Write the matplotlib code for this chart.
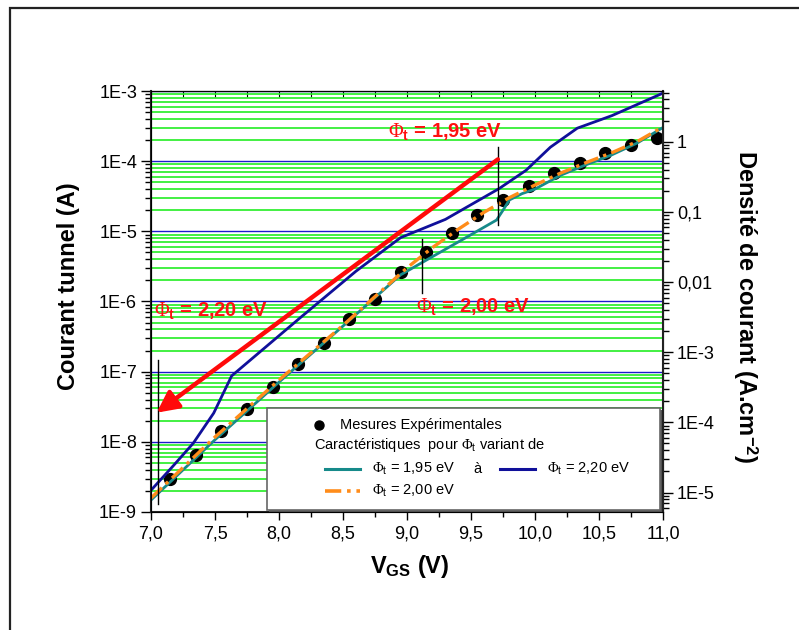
import matplotlib
matplotlib.use('Agg')
import matplotlib.pyplot as plt
import numpy as np
from matplotlib.ticker import FixedLocator, FixedFormatter, LogLocator, NullFormatter, MultipleLocator
from matplotlib.patches import Rectangle
from matplotlib.lines import Line2D

plt.rcParams['font.family'] = ['Liberation Sans', 'DejaVu Sans']
plt.rcParams['mathtext.fontset'] = 'custom'
plt.rcParams['mathtext.rm'] = 'Liberation Serif'
plt.rcParams['mathtext.it'] = 'Liberation Serif:italic'
plt.rcParams['mathtext.bf'] = 'Liberation Sans:bold'
plt.rcParams['mathtext.sf'] = 'Liberation Sans'

# measured points
v_meas = [7.15, 7.35, 7.55, 7.75, 7.95, 8.15, 8.35, 8.55, 8.75, 8.95,
          9.15, 9.35, 9.55, 9.75, 9.95, 10.15, 10.35, 10.55, 10.75, 10.95]
i_meas = [2.92e-9, 6.5e-9, 1.43e-8, 2.97e-8, 6.1e-8, 1.27e-7, 2.59e-7, 5.6e-7, 1.09e-6, 2.64e-6,
          5.13e-6, 9.46e-6, 1.71e-5, 2.8e-5, 4.43e-5, 6.7e-5, 9.33e-5, 1.29e-4, 1.70e-4, 2.16e-4]

# simulated curves
v_195 = [7.0, 7.5, 8.0, 8.5, 8.95, 9.2, 9.45, 9.7, 9.75, 9.8, 9.9, 10.0, 10.2, 10.4, 10.6, 10.8, 11.0]
i_195 = [1.48e-9, 1.07e-8, 7.1e-8, 4.47e-7, 2.4e-6, 4.37e-6, 7.94e-6, 1.45e-5, 2.0e-5, 2.8e-5,
         3.45e-5, 4.0e-5, 6.3e-5, 8.9e-5, 1.23e-4, 1.82e-4, 3.02e-4]

v_200 = [7.0, 7.5, 8.0, 8.5, 9.0, 9.2, 9.4, 9.6, 9.8, 10.0, 10.2, 10.4, 10.6, 10.8, 11.0]
i_200 = [1.58e-9, 1.17e-8, 7.6e-8, 4.57e-7, 3.02e-6, 5.89e-6, 1.07e-5, 1.86e-5, 3.02e-5, 4.57e-5,
         6.76e-5, 9.55e-5, 1.32e-4, 1.91e-4, 3.09e-4]

v_220 = [7.0, 7.17, 7.33, 7.49, 7.63, 8.16, 8.6, 8.95, 9.3, 9.72, 9.93, 10.12, 10.33, 10.6, 11.0]
i_220 = [2.04e-9, 4.47e-9, 9.55e-9, 2.57e-8, 8.7e-8, 5.75e-7, 2.69e-6, 8.13e-6, 1.48e-5, 4.07e-5,
         7.41e-5, 1.58e-4, 2.95e-4, 4.45e-4, 9.33e-4]

# red arrow and marker lines
arrow_start = (9.71, 1.06e-4)
arrow_end = (7.044, 2.6e-8)
marks = [(7.055, 1.3e-9, 1.47e-7), (9.71, 1.23e-5, 1.61e-4), (9.12, 1.32e-6, 7.9e-6)]

area = 1.895e-4  # cm2, J = I / area
ylim = (1e-9, 1e-3)

left_ticks = [1e-9, 1e-8, 1e-7, 1e-6, 1e-5, 1e-4, 1e-3]
left_labels = ['1E-9', '1E-8', '1E-7', '1E-6', '1E-5', '1E-4', '1E-3']
right_ticks = [1e-5, 1e-4, 1e-3, 1e-2, 1e-1, 1]
right_labels = ['1E-5', '1E-4', '1E-3', '0,01', '0,1', '1']

teal = '#168a8a'
navy = '#10109a'
orange = '#ff8c1a'


def fx(px):
    return px / 799


def fy(py):
    return 1 - py / 630


fig = plt.figure(figsize=(7.99, 6.30), dpi=100)
fig.add_artist(Rectangle((fx(10), -0.2), 1.2, 1.2 - 8 / 630, transform=fig.transFigure,
                         fill=False, edgecolor='#222222', lw=1.6))

ax = fig.add_axes([fx(151), fy(512), 512 / 799, 421 / 630])
ax.set_yscale('log')
ax.set_xlim(7.0, 11.0)
ax.set_ylim(*ylim)

ax.set_axisbelow(True)
ax.yaxis.grid(True, which='minor', color='#22ee22', lw=1.2)
ax.yaxis.grid(True, which='major', color='#1a1acc', lw=1.0)

ax.plot(v_meas, i_meas, 'o', color='black', ms=8.5, zorder=2)
ax.plot(v_195, i_195, color=teal, lw=2, zorder=3)
ax.plot(v_220, i_220, color=navy, lw=2, zorder=3)
ax.plot(v_200, i_200, color=orange, lw=2.4, dashes=(4.5, 1.6, 1, 1.6), zorder=4)

for xv, y0, y1 in marks:
    ax.plot([xv, xv], [y0, y1], color='black', lw=1, zorder=4)

ax.annotate('', xy=arrow_end, xytext=arrow_start,
            arrowprops=dict(arrowstyle='-|>,head_length=0.8,head_width=0.4', color='#ff0a0a',
                            lw=3.2, mutation_scale=16, shrinkA=0, shrinkB=0), zorder=5)

ann_kw = dict(color='#ff1010', fontsize=14.5, fontweight='bold', zorder=6)
fig.text(fx(388), fy(137), r'$\Phi_{\mathbf{t}}$ = 1,95 eV', **ann_kw)
fig.text(fx(154), fy(316), r'$\Phi_{\mathbf{t}}$ = 2,20 eV', **ann_kw)
fig.text(fx(416), fy(312), r'$\Phi_{\mathbf{t}}$ = 2,00 eV', **ann_kw)

# x axis
ax.xaxis.set_major_locator(MultipleLocator(0.5))
ax.xaxis.set_minor_locator(MultipleLocator(0.25))
ax.set_xticklabels([f'{v:.1f}'.replace('.', ',') for v in ax.get_xticks()])
ax.tick_params(axis='x', which='major', direction='out', length=6, width=1, labelsize=13, pad=4)
ax.tick_params(axis='x', which='minor', direction='out', length=3.5, width=1)

# left axis
ax.yaxis.set_major_locator(FixedLocator(left_ticks))
ax.yaxis.set_major_formatter(FixedFormatter(left_labels))
ax.yaxis.set_minor_locator(LogLocator(base=10, subs=np.arange(2, 10)))
ax.yaxis.set_minor_formatter(NullFormatter())
ax.tick_params(axis='y', which='major', direction='out', length=7, width=1, labelsize=13, pad=3)
ax.tick_params(axis='y', which='minor', direction='out', length=4, width=1)

top = ax.secondary_xaxis('top')
top.xaxis.set_major_locator(MultipleLocator(0.25))
top.tick_params(direction='in', length=4, width=0.8, labeltop=False)

for s in ['left', 'bottom']:
    ax.spines[s].set_linewidth(1.5)
    ax.spines[s].set_color('#222222')

# right axis
ax2 = ax.twinx()
ax2.set_yscale('log')
ax2.set_ylim(ylim[0] / area, ylim[1] / area)
ax2.yaxis.set_major_locator(FixedLocator(right_ticks))
ax2.yaxis.set_major_formatter(FixedFormatter(right_labels))
ax2.yaxis.set_minor_locator(LogLocator(base=10, subs=np.arange(2, 10)))
ax2.yaxis.set_minor_formatter(NullFormatter())
ax2.tick_params(axis='y', which='major', direction='out', length=7, width=1, labelsize=13, pad=3)
ax2.tick_params(axis='y', which='minor', direction='out', length=4, width=1)
ax2.spines['right'].set_linewidth(1.5)
ax2.spines['right'].set_color('#222222')

# legend drawn by hand
lx0, lx1, ly0, ly1 = 0.2266, 0.994, 0.005, 0.248
ax.add_patch(Rectangle((lx0 + 0.004, ly0 - 0.005), lx1 - lx0, ly1 - ly0, transform=ax.transAxes,
                       facecolor='#555555', edgecolor='none', zorder=7, clip_on=False))
ax.add_patch(Rectangle((lx0, ly0), lx1 - lx0, ly1 - ly0, transform=ax.transAxes,
                       facecolor='white', edgecolor='#666666', lw=1.2, zorder=8))
lfs = 10.5
ax.plot([0.3287], [0.2067], 'o', color='black', ms=6.5, transform=ax.transAxes, zorder=9, clip_on=False)
ax.text(0.369, 0.2067, 'Mesures Expérimentales', transform=ax.transAxes, fontsize=lfs,
        va='center', zorder=9)
ax.text(0.318, 0.159, r'Caractéristiques  pour $\Phi_{\mathsf{t}}$ variant de', transform=ax.transAxes,
        fontsize=lfs, va='center', zorder=9)
ax.add_line(Line2D([0.340, 0.408], [0.102, 0.102], color=teal, lw=2.2, transform=ax.transAxes, zorder=9))
ax.text(0.431, 0.102, r'$\Phi_{\mathsf{t}}$ = 1,95 eV', transform=ax.transAxes, fontsize=lfs,
        va='center', zorder=9)
ax.text(0.6295, 0.102, 'à', transform=ax.transAxes, fontsize=lfs, va='center', zorder=9)
ax.add_line(Line2D([0.6816, 0.75], [0.102, 0.102], color=navy, lw=2.2, transform=ax.transAxes, zorder=9))
ax.text(0.773, 0.102, r'$\Phi_{\mathsf{t}}$ = 2,20 eV', transform=ax.transAxes, fontsize=lfs,
        va='center', zorder=9)
ax.add_line(Line2D([0.340, 0.408], [0.0506, 0.0506], color=orange, lw=2.6, dashes=(4.5, 1.6, 1, 1.6),
                   transform=ax.transAxes, zorder=9))
ax.text(0.431, 0.0506, r'$\Phi_{\mathsf{t}}$ = 2,00 eV', transform=ax.transAxes, fontsize=lfs,
        va='center', zorder=9)

# axis titles
fig.text(fx(68), fy(286), 'Courant tunnel (A)', rotation=90, fontsize=17, fontweight='bold',
         ha='center', va='center')
fig.text(fx(745), fy(307), r'Densité de courant (A.cm$^{\mathbf{-2}}$)', rotation=-90,
         fontsize=17, fontweight='bold', ha='center', va='center')
fig.text(fx(410), fy(566), r'$\mathbf{V_{GS}}$ (V)', fontsize=17, fontweight='bold',
         ha='center', va='center')

fig.savefig('out.png', dpi=100)
